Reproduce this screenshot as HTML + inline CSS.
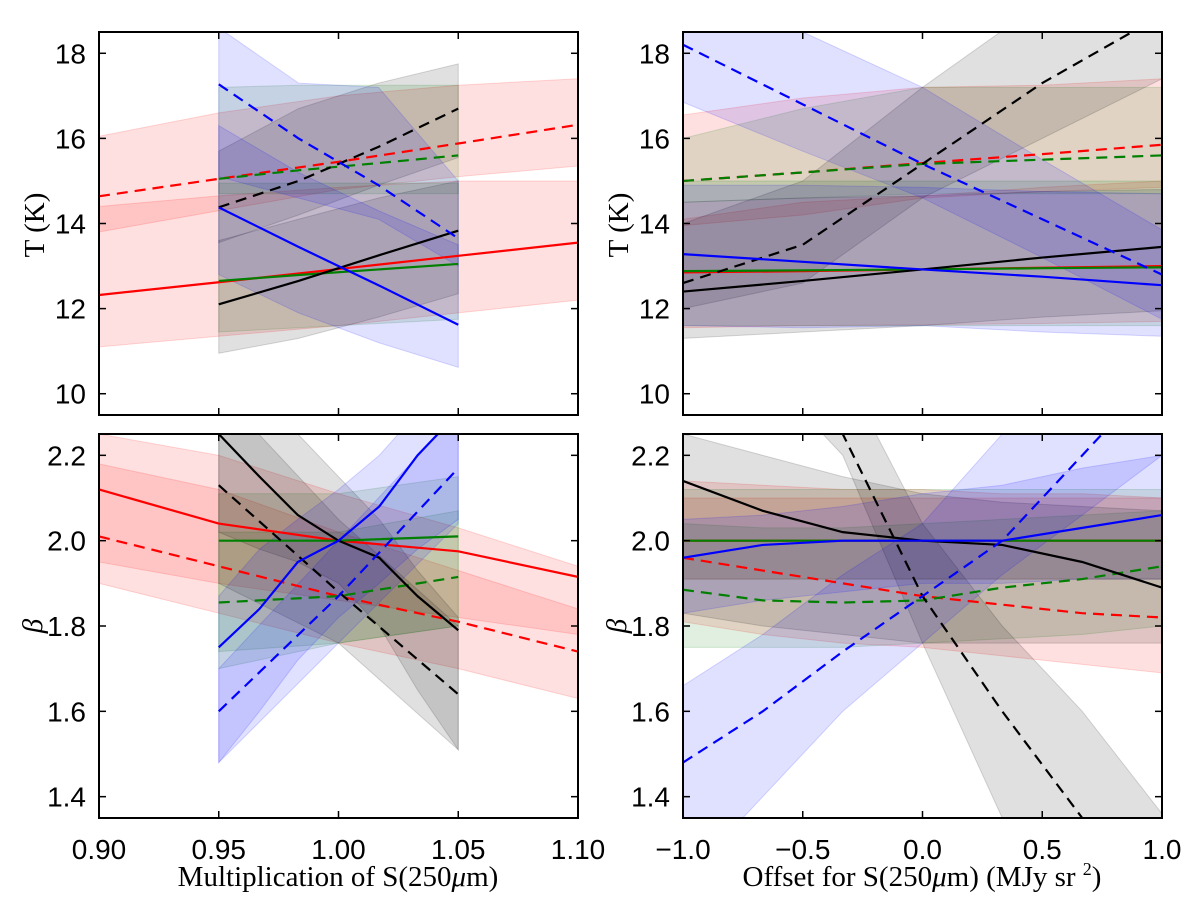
<!DOCTYPE html>
<html><head><meta charset="utf-8"><style>
html,body{margin:0;padding:0;background:#fff;overflow:hidden;width:1200px;height:904px;}
svg{display:block;}
.tick{font-family:"Liberation Sans",sans-serif;font-size:28px;fill:#000;}
.lab{font-family:"Liberation Serif",serif;font-size:29px;fill:#000;}
</style></head><body>
<svg id="fig" width="1200" height="904" viewBox="0 0 1200 904" xmlns="http://www.w3.org/2000/svg">
<text class="lab" x="0" y="0" transform="translate(44,225) rotate(-90)" text-anchor="middle">T (K)</text>
<text class="lab" x="0" y="0" transform="translate(628,225) rotate(-90)" text-anchor="middle">T (K)</text>
<text class="lab" x="0" y="0" transform="translate(42,626) rotate(-90)" text-anchor="middle" font-style="italic">β</text>
<text class="lab" x="0" y="0" transform="translate(626,626) rotate(-90)" text-anchor="middle" font-style="italic">β</text>
<text class="lab" x="338" y="886" text-anchor="middle">Multiplication of S(250<tspan font-style="italic">μ</tspan>m)</text>
<text class="lab" x="922" y="886" text-anchor="middle">Offset for S(250<tspan font-style="italic">μ</tspan>m) (MJy sr <tspan font-size="18" dy="-11">2</tspan><tspan dy="11">)</tspan></text>
</svg>
<script>
// ---- data ----
const tlFull=[0.9,0.95,1.0,1.05,1.1];
const tlMid=[0.95,0.9833,1.0167,1.05];
const tlRedS=[12.32,12.62,12.93,13.24,13.55], tlRedSLo=[11.1,11.35,11.6,11.9,12.2], tlRedSHi=[14.4,14.65,14.85,15.0,15.0];
const tlRedD=[14.64,15.05,15.45,15.88,16.32], tlRedDLo=[13.8,14.3,14.8,15.1,15.35], tlRedDHi=[16.05,16.6,17.0,17.25,17.4];
const tlGreS=[12.65,12.79,12.92,13.05], tlGreSLo=[11.45,11.55,11.65,11.75], tlGreSHi=[14.95,14.95,14.95,14.95];
const tlGreD=[15.05,15.25,15.42,15.6], tlGreDLo=[14.7,14.7,14.7,14.7], tlGreDHi=[17.2,17.25,17.25,17.25];
const tlBlkS=[12.1,12.65,13.25,13.83], tlBlkSLo=[10.95,11.3,11.8,12.35], tlBlkSHi=[13.6,14.1,14.6,15.0];
const tlBlkD=[14.38,15.0,15.8,16.7], tlBlkDLo=[13.55,14.2,14.9,15.55], tlBlkDHi=[15.7,16.7,17.3,17.75];
const tlBluS=[14.38,13.45,12.55,11.62], tlBluSLo=[12.8,11.9,11.2,10.62], tlBluSHi=[16.3,15.2,14.3,13.5];
const tlBluD=[17.27,16.0,14.9,13.65], tlBluDLo=[15.1,14.6,14.1,13.0], tlBluDHi=[18.6,17.3,17.2,15.0];

const trX=[-1,-0.5,0,0.5,1];
const trBluD=[18.2,16.8,15.4,14.1,12.8], trBluDLo=[16.85,15.7,14.6,13.2,11.75], trBluDHi=[19.5,18.5,17.2,15.5,13.85];
const trBlkD=[12.6,13.5,15.4,17.3,18.9], trBlkDLo=[12.0,12.6,14.6,16.0,17.4], trBlkDHi=[14.0,15.0,17.2,19.2,20.5];
const trRedD=[15.0,15.2,15.42,15.63,15.85], trRedDLo=[13.95,14.2,14.6,14.75,14.85], trRedDHi=[16.55,16.95,17.2,17.25,17.4];
const trGreD=[15.0,15.2,15.4,15.5,15.6], trGreDLo=[14.5,14.6,14.7,14.7,14.7], trGreDHi=[16.0,16.7,17.2,17.2,17.2];
const trBlkS=[12.4,12.65,12.92,13.2,13.45], trBlkSLo=[11.3,11.45,11.6,11.8,11.95], trBlkSHi=[14.5,14.6,14.65,14.75,14.8];
const trBluS=[13.28,13.1,12.92,12.75,12.55], trBluSLo=[11.6,11.55,11.6,11.45,11.35], trBluSHi=[14.9,14.9,14.85,14.75,14.7];
const trRedS=[12.85,12.88,12.92,12.96,13.0], trRedSLo=[11.55,11.6,11.62,11.65,11.7], trRedSHi=[14.1,14.5,14.65,14.85,15.0];
const trGreS=[12.88,12.9,12.92,12.95,12.97], trGreSLo=[11.6,11.6,11.6,11.6,11.6], trGreSHi=[15,15,15,15,15];

const blFull=[0.9,0.95,1.0,1.05,1.1];
const bl3=[0.95,1.0,1.05];
const bl7=[0.95,0.967,0.983,1.0,1.017,1.033,1.05];
const blRedS=[2.12,2.04,2.0,1.975,1.915], blRedSLo=[1.95,1.9,1.86,1.82,1.78], blRedSHi=[2.25,2.2,2.11,2.03,1.94];
const blRedD=[2.01,1.94,1.87,1.81,1.74], blRedDLo=[1.9,1.83,1.76,1.7,1.63], blRedDHi=[2.18,2.12,2.02,1.93,1.84];
const blGreS=[2.0,2.0,2.01], blGreSLo=[1.74,1.76,1.8], blGreSHi=[2.11,2.11,2.15];
const blGreD=[1.855,1.87,1.915], blGreDLo=[1.7,1.76,1.8], blGreDHi=[2.02,2.02,2.07];
const blBlkS=[2.25,2.15,2.06,2.0,1.96,1.87,1.79], blBlkSLo=[2.02,1.98,1.95,1.9,1.8,1.65,1.51], blBlkSHi=[2.4,2.35,2.25,2.15,2.05,1.93,1.82];
const blBlkD=[2.13,1.88,1.64], blBlkDLo=[1.9,1.76,1.51], blBlkDHi=[2.35,2.05,1.8];
const blBluS=[1.75,1.84,1.95,2.0,2.08,2.2,2.3], blBluSLo=[1.48,1.6,1.72,1.82,1.9,1.98,2.05], blBluSHi=[1.87,1.98,2.05,2.12,2.2,2.3,2.45];
const blBluD=[1.6,1.87,2.17], blBluDLo=[1.48,1.76,2.04], blBluDHi=[1.7,2.0,2.3];

const brX=[-1,-0.667,-0.333,0,0.333,0.667,1];
const brBlkD=[2.6,2.43,2.25,1.87,1.6,1.35,1.1], brBlkDLo=[2.5,2.4,2.2,1.76,1.35,1.0,0.8], brBlkDHi=[2.8,2.6,2.4,2.04,1.8,1.6,1.36];
const brBluD=[1.48,1.6,1.74,1.87,2.0,2.2,2.4], brBluDLo=[1.2,1.4,1.6,1.76,1.92,2.06,2.2], brBluDHi=[1.66,1.78,1.92,2.04,2.25,2.4,2.6];
const brBlkS=[2.14,2.07,2.02,2.0,1.99,1.95,1.89], brBlkSLo=[1.83,1.8,1.78,1.76,1.76,1.76,1.76], brBlkSHi=[2.25,2.2,2.15,2.11,2.09,2.08,2.07];
const brBluS=[1.96,1.99,2.0,2.0,2.0,2.03,2.06], brBluSLo=[1.83,1.86,1.88,1.9,1.9,1.91,1.91], brBluSHi=[2.05,2.06,2.08,2.11,2.13,2.17,2.2];
const brRedD=[1.96,1.93,1.9,1.87,1.85,1.83,1.82], brRedDLo=[1.81,1.78,1.76,1.75,1.73,1.71,1.69], brRedDHi=[2.14,2.13,2.12,2.12,2.11,2.11,2.1];
const brGreD=[1.885,1.86,1.855,1.86,1.89,1.91,1.94], brGreDLo=[1.75,1.75,1.75,1.76,1.77,1.78,1.8], brGreDHi=[2.04,2.03,2.03,2.04,2.05,2.06,2.07];
const brGreS=[2,2,2,2,2,2,2], brGreSLo=[1.91,1.91,1.91,1.91,1.91,1.91,1.91], brGreSHi=[2.12,2.12,2.12,2.12,2.12,2.12,2.12];
const brRedS=[2,2,2,2,2,2,2], brRedSLo=[1.91,1.91,1.91,1.91,1.91,1.91,1.91], brRedSHi=[2.1,2.1,2.1,2.1,2.1,2.1,2.1];

const tTicks=[10,12,14,16,18], bTicks=[1.4,1.6,1.8,2.0,2.2];
const lxTicks=[0.90,0.95,1.00,1.05,1.10], rxTicks=[-1.0,-0.5,0.0,0.5,1.0];
const lxLabels=["0.90","0.95","1.00","1.05","1.10"], rxLabels=["\u22121.0","\u22120.5","0.0","0.5","1.0"];
const tLabels=["10","12","14","16","18"], bLabels=["1.4","1.6","1.8","2.0","2.2"];

const NS="http://www.w3.org/2000/svg";
const fig=document.getElementById('fig');
const COL={r:'#ff0000',g:'#007f00',k:'#000000',b:'#0000ff'};
function mk(tag,attrs,parent){const e=document.createElementNS(NS,tag);for(const k in attrs)e.setAttribute(k,attrs[k]);(parent||fig).appendChild(e);return e;}

function panel(id,L,R,T,B,xmin,xmax,ymin,ymax,series,xt,xl,yt,yl,showX){
  const sx=v=>L+(v-xmin)/(xmax-xmin)*(R-L);
  const sy=v=>B-(v-ymin)/(ymax-ymin)*(B-T);
  const g=mk('g',{});
  
  
  const cp=mk('clipPath',{id:'c'+id},g);mk('rect',{x:L,y:T,width:R-L,height:B-T},cp);
  const pg=mk('g',{'clip-path':'url(#c'+id+')'},g);
  series.forEach(s=>{
    let d='M'+s.x.map((v,i)=>sx(v)+','+sy(s.hi[i])).join('L');
    for(let i=s.x.length-1;i>=0;i--)d+='L'+sx(s.x[i])+','+sy(s.lo[i]);
    const p=mk('path',{d:d+'Z',fill:COL[s.c],'fill-opacity':0.12,stroke:COL[s.c],'stroke-opacity':0.15,'stroke-width':1},pg);
    
    
  });
  series.forEach(s=>{
    const d='M'+s.x.map((v,i)=>sx(v)+','+sy(s.y[i])).join('L');
    const p=mk('path',{d:d,fill:'none',stroke:COL[s.c],'stroke-width':2.2,'stroke-dasharray':s.d?'11,7':'none'},pg);
    
    
  });
  mk('rect',{x:L,y:T,width:R-L,height:B-T,fill:'none',stroke:'#000','stroke-width':2},g);
  yt.forEach((v,i)=>{
    const y=sy(v);
    mk('line',{x1:L,x2:L+7,y1:y,y2:y,stroke:'#000','stroke-width':1.5},g);
    mk('line',{x1:R,x2:R-7,y1:y,y2:y,stroke:'#000','stroke-width':1.5},g);
    const t=mk('text',{x:L-13,y:y+10,'text-anchor':'end',class:'tick'},g);t.textContent=yl[i];
    
    
  });
  xt.forEach((v,i)=>{
    const x=sx(v);
    mk('line',{x1:x,x2:x,y1:B,y2:B-7,stroke:'#000','stroke-width':1.5},g);
    mk('line',{x1:x,x2:x,y1:T,y2:T+7,stroke:'#000','stroke-width':1.5},g);
    if(showX){const t=mk('text',{x:x,y:B+41,'text-anchor':'middle',class:'tick'},g);t.textContent=xl[i];
      
      }
  });
}
function S(n,c,d,x,y,lo,hi){return {n,c,d,x,y,lo,hi};}

panel('top-left',99,578,32,415,0.9,1.1,9.5,18.5,[
 S('red-solid','r',0,tlFull,tlRedS,tlRedSLo,tlRedSHi),S('red-dashed','r',1,tlFull,tlRedD,tlRedDLo,tlRedDHi),
 S('green-solid','g',0,tlMid,tlGreS,tlGreSLo,tlGreSHi),S('green-dashed','g',1,tlMid,tlGreD,tlGreDLo,tlGreDHi),
 S('black-solid','k',0,tlMid,tlBlkS,tlBlkSLo,tlBlkSHi),S('black-dashed','k',1,tlMid,tlBlkD,tlBlkDLo,tlBlkDHi),
 S('blue-solid','b',0,tlMid,tlBluS,tlBluSLo,tlBluSHi),S('blue-dashed','b',1,tlMid,tlBluD,tlBluDLo,tlBluDHi)],
 lxTicks,lxLabels,tTicks,tLabels,false);
panel('top-right',683,1162,32,415,-1,1,9.5,18.5,[
 S('red-solid','r',0,trX,trRedS,trRedSLo,trRedSHi),S('red-dashed','r',1,trX,trRedD,trRedDLo,trRedDHi),
 S('green-solid','g',0,trX,trGreS,trGreSLo,trGreSHi),S('green-dashed','g',1,trX,trGreD,trGreDLo,trGreDHi),
 S('black-solid','k',0,trX,trBlkS,trBlkSLo,trBlkSHi),S('black-dashed','k',1,trX,trBlkD,trBlkDLo,trBlkDHi),
 S('blue-solid','b',0,trX,trBluS,trBluSLo,trBluSHi),S('blue-dashed','b',1,trX,trBluD,trBluDLo,trBluDHi)],
 rxTicks,rxLabels,tTicks,tLabels,false);
panel('bottom-left',99,578,434,818,0.9,1.1,1.35,2.25,[
 S('red-solid','r',0,blFull,blRedS,blRedSLo,blRedSHi),S('red-dashed','r',1,blFull,blRedD,blRedDLo,blRedDHi),
 S('green-solid','g',0,bl3,blGreS,blGreSLo,blGreSHi),S('green-dashed','g',1,bl3,blGreD,blGreDLo,blGreDHi),
 S('black-solid','k',0,bl7,blBlkS,blBlkSLo,blBlkSHi),S('black-dashed','k',1,bl3,blBlkD,blBlkDLo,blBlkDHi),
 S('blue-solid','b',0,bl7,blBluS,blBluSLo,blBluSHi),S('blue-dashed','b',1,bl3,blBluD,blBluDLo,blBluDHi)],
 lxTicks,lxLabels,bTicks,bLabels,true);
panel('bottom-right',683,1162,434,818,-1,1,1.35,2.25,[
 S('red-solid','r',0,brX,brRedS,brRedSLo,brRedSHi),S('red-dashed','r',1,brX,brRedD,brRedDLo,brRedDHi),
 S('green-solid','g',0,brX,brGreS,brGreSLo,brGreSHi),S('green-dashed','g',1,brX,brGreD,brGreDLo,brGreDHi),
 S('black-solid','k',0,brX,brBlkS,brBlkSLo,brBlkSHi),S('black-dashed','k',1,brX,brBlkD,brBlkDLo,brBlkDHi),
 S('blue-solid','b',0,brX,brBluS,brBluSLo,brBluSHi),S('blue-dashed','b',1,brX,brBluD,brBluDLo,brBluDHi)],
 rxTicks,rxLabels,bTicks,bLabels,true);
</script>
</body></html>
